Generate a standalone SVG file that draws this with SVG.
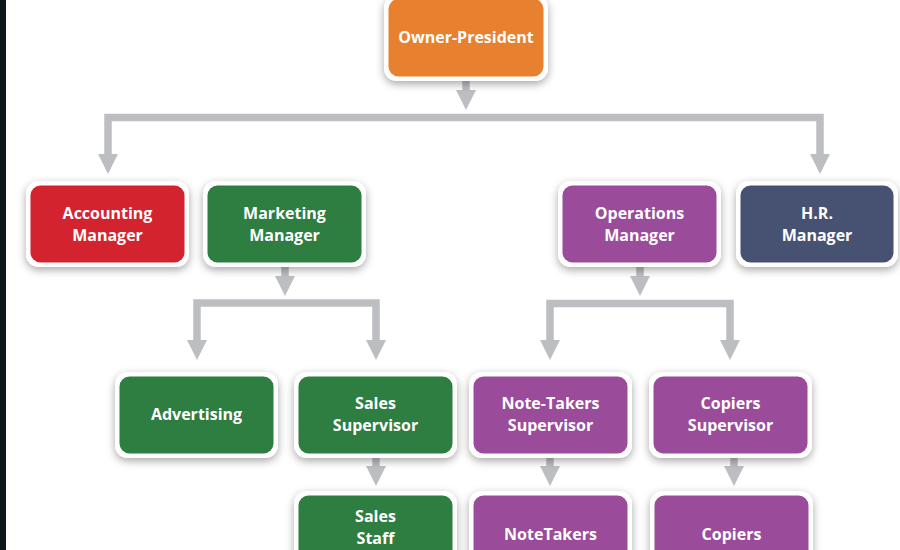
<svg xmlns="http://www.w3.org/2000/svg" width="900" height="550" viewBox="0 0 900 550">
  <defs>
    <filter id="shadow" x="-20%" y="-30%" width="140%" height="160%">
      <feDropShadow dx="0" dy="3" stdDeviation="4" flood-color="#000" flood-opacity="0.35"/>
    </filter>
    <marker id="arrow" markerUnits="userSpaceOnUse" markerWidth="20" markerHeight="20" refX="0" refY="10" orient="auto" viewBox="0 0 20 20">
      <path d="M0,0 L20,10 L0,20 z" fill="#BDBEC1"/>
    </marker>
  </defs>
  <style>
    .outer { fill: #ffffff; filter: url(#shadow); }
    .lbl { font-family: "Open Sans", "Liberation Sans", sans-serif; font-weight: 700; font-size: 16px; fill: #ffffff; text-anchor: middle; }
    .orange { fill: #E8812F; }
    .red { fill: #D2232E; }
    .green { fill: #2E7D41; }
    .purple { fill: #9A4C9B; }
    .navy { fill: #475272; }
    .conn { fill: none; stroke: #BDBEC1; stroke-width: 7.5; stroke-linejoin: miter; }
  </style>
  <rect x="0" y="0" width="900" height="550" fill="#ffffff"/>
  <rect x="0" y="0" width="6" height="550" fill="#0D181D"/>

  <g id="connectors">
    <path class="conn" d="M466,81 V90" marker-end="url(#arrow)"/>
    <path class="conn" d="M466,117.5 H108 V154" marker-end="url(#arrow)"/>
    <path class="conn" d="M466,117.5 H820 V154" marker-end="url(#arrow)"/>
    <path class="conn" d="M285,267 V276" marker-end="url(#arrow)"/>
    <path class="conn" d="M285,303 H197 V340" marker-end="url(#arrow)"/>
    <path class="conn" d="M285,303 H376 V340" marker-end="url(#arrow)"/>
    <path class="conn" d="M640,267 V276" marker-end="url(#arrow)"/>
    <path class="conn" d="M640,303.5 H550 V340" marker-end="url(#arrow)"/>
    <path class="conn" d="M640,303.5 H730 V340" marker-end="url(#arrow)"/>
    <path class="conn" d="M376,457 V466" marker-end="url(#arrow)"/>
    <path class="conn" d="M550,457 V466" marker-end="url(#arrow)"/>
    <path class="conn" d="M734,457 V466" marker-end="url(#arrow)"/>
  </g>

  <g id="owner-president">
    <rect class="outer" x="384" y="-5" width="164" height="86" rx="13"/>
    <rect class="orange" x="388.5" y="-1" width="155" height="77.5" rx="10"/>
    <text class="lbl" x="466" y="43">Owner-President</text>
  </g>

  <g id="accounting-manager">
    <rect class="outer" x="26" y="181" width="163" height="86" rx="13"/>
    <rect class="red" x="30.5" y="185.5" width="154" height="77" rx="10"/>
    <text class="lbl" x="107.5" y="219">Accounting</text>
    <text class="lbl" x="107.5" y="241">Manager</text>
  </g>

  <g id="marketing-manager">
    <rect class="outer" x="203" y="181" width="163" height="86" rx="13"/>
    <rect class="green" x="207.5" y="185.5" width="154" height="77" rx="10"/>
    <text class="lbl" x="284.5" y="219">Marketing</text>
    <text class="lbl" x="284.5" y="241">Manager</text>
  </g>

  <g id="operations-manager">
    <rect class="outer" x="558" y="181" width="163" height="86" rx="13"/>
    <rect class="purple" x="562.5" y="185.5" width="154" height="77" rx="10"/>
    <text class="lbl" x="639.5" y="219">Operations</text>
    <text class="lbl" x="639.5" y="241">Manager</text>
  </g>

  <g id="hr-manager">
    <rect class="outer" x="736" y="181" width="162" height="86" rx="13"/>
    <rect class="navy" x="740.5" y="185.5" width="153" height="77" rx="10"/>
    <text class="lbl" x="817" y="219">H.R.</text>
    <text class="lbl" x="817" y="241">Manager</text>
  </g>

  <g id="advertising">
    <rect class="outer" x="115" y="372" width="163" height="86" rx="13"/>
    <rect class="green" x="119.5" y="376.5" width="154" height="77" rx="10"/>
    <text class="lbl" x="196.5" y="420">Advertising</text>
  </g>

  <g id="sales-supervisor">
    <rect class="outer" x="294" y="372" width="163" height="86" rx="13"/>
    <rect class="green" x="298.5" y="376.5" width="154" height="77" rx="10"/>
    <text class="lbl" x="375.5" y="409">Sales</text>
    <text class="lbl" x="375.5" y="431">Supervisor</text>
  </g>

  <g id="note-takers-supervisor">
    <rect class="outer" x="469" y="372" width="163" height="86" rx="13"/>
    <rect class="purple" x="473.5" y="376.5" width="154" height="77" rx="10"/>
    <text class="lbl" x="550.5" y="409">Note-Takers</text>
    <text class="lbl" x="550.5" y="431">Supervisor</text>
  </g>

  <g id="copiers-supervisor">
    <rect class="outer" x="649" y="372" width="163" height="86" rx="13"/>
    <rect class="purple" x="653.5" y="376.5" width="154" height="77" rx="10"/>
    <text class="lbl" x="730.5" y="409">Copiers</text>
    <text class="lbl" x="730.5" y="431">Supervisor</text>
  </g>

  <g id="sales-staff">
    <rect class="outer" x="294" y="491" width="163" height="86" rx="13"/>
    <rect class="green" x="298.5" y="495.5" width="154" height="77" rx="10"/>
    <text class="lbl" x="375.5" y="522">Sales</text>
    <text class="lbl" x="375.5" y="544">Staff</text>
  </g>

  <g id="notetakers">
    <rect class="outer" x="469" y="491" width="163" height="86" rx="13"/>
    <rect class="purple" x="473.5" y="495.5" width="154" height="77" rx="10"/>
    <text class="lbl" x="550.5" y="540">NoteTakers</text>
  </g>

  <g id="copiers">
    <rect class="outer" x="650" y="491" width="163" height="86" rx="13"/>
    <rect class="purple" x="654.5" y="495.5" width="154" height="77" rx="10"/>
    <text class="lbl" x="731.5" y="540">Copiers</text>
  </g>
</svg>
